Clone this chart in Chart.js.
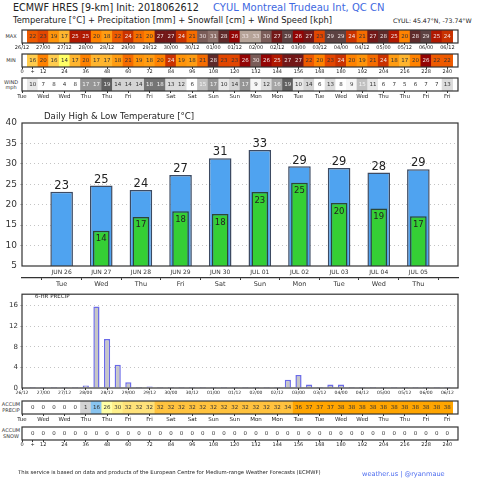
<!DOCTYPE html>
<html>
<head>
<meta charset="utf-8">
<script src="https://cdn.jsdelivr.net/npm/chart.js@4.4.0/dist/chart.umd.min.js"></script>
<style>
body { margin: 0; background: #fff; }
#wrap { position: relative; width: 480px; height: 480px; overflow: hidden; font-family: 'DejaVu Sans', sans-serif; color: #222; }
#wrap canvas { position: absolute; left: 0; }
.t { position: absolute; white-space: nowrap; line-height: 1; }
.lab { position: absolute; left: 0; width: 22px; text-align: center; font-size: 5px; line-height: 5.5px; color: #333; }
</style>
</head>
<body>
<div id="wrap">
  <div class="t" style="left:13px;top:3px;font-size:9.6px">ECMWF HRES [9-km] Init: 2018062612</div>
  <div class="t" style="left:213px;top:3px;font-size:10px;color:#4169e1">CYUL Montreal Trudeau Int, QC CN</div>
  <div class="t" style="left:13px;top:16px;font-size:8.4px">Temperature [°C] + Precipitation [mm] + Snowfall [cm] + Wind Speed [kph]</div>
  <div class="t" style="left:393px;top:17.5px;font-size:6.2px">CYUL: 45.47°N, -73.74°W</div>

  <div class="lab" style="top:34px">MAX</div>
  <div class="lab" style="top:58px">MIN</div>
  <div class="lab" style="top:79.5px">WIND<br>mph</div>
  <div class="lab" style="top:402px">ACCUM<br>PRECIP</div>
  <div class="lab" style="top:428px">ACCUM<br>SNOW</div>

  <canvas id="cMax" width="480" height="28" style="top:28px"></canvas>
  <canvas id="cMin" width="480" height="28" style="top:52px"></canvas>
  <canvas id="cWind" width="480" height="28" style="top:76px"></canvas>
  <canvas id="cTemp" width="480" height="182" style="top:108px"></canvas>
  <canvas id="cPrecip" width="480" height="110" style="top:288px"></canvas>
  <canvas id="cAcc" width="480" height="28" style="top:399px"></canvas>
  <canvas id="cSnow" width="480" height="28" style="top:425px"></canvas>

  <div class="t" style="left:44px;top:112px;font-size:8.6px">Daily High &amp; Low Temperature [°C]</div>
  <div class="t" style="left:35px;top:294px;font-size:5.5px">6-HR PRECIP</div>

  <div class="t" style="left:18px;top:470px;font-size:5.3px">This service is based on data and products of the European Centre for Medium-range Weather Forecasts (ECMWF)</div>
  <div class="t" style="left:362px;top:470.5px;font-size:6.6px;color:#4b6bef">weather.us | @ryanmaue</div>
</div>

<script>
// forecast hour of each 6-hourly cell
const hours = [6,12,18,24,30,36,42,48,54,60,66,72,78,84,90,96,102,108,114,120,
               126,132,138,144,150,156,162,168,174,180,186,192,198,204,210,216,222,228,234,240];

const maxT = [22,23,19,17,25,25,20,18,22,24,21,20,27,27,24,21,30,31,28,26,
              33,33,30,27,29,26,27,23,29,29,24,21,27,28,25,20,28,29,25,24];
const minT = [16,20,16,14,17,20,17,17,18,21,19,18,20,24,19,18,21,28,23,23,
              26,30,26,25,27,27,22,20,23,24,20,19,21,24,18,17,20,26,22,22];
const wind = [10,7,8,4,8,17,17,19,14,14,14,18,18,13,12,6,15,17,10,14,
              17,9,12,16,19,10,14,6,13,8,9,15,11,6,7,5,6,7,7,13];
const precip6h = [0,0,0,0,0,0.5,15.8,9.5,4.5,1.1,0.1,0.3,0,0,0,0,0,0,0,0,
                  0,0,0,0,1.6,2.5,0.7,0,0.7,0.7,0,0,0,0,0,0,0,0,0,0];
const accumPrecip = [0,0,0,0,0,0.6,16.4,25.9,30.4,31.5,31.6,31.9,32.1,32.1,32.1,32.1,32.1,32.1,32.1,32.1,
                     32.1,32.1,32.1,32.1,33.7,36.2,36.9,36.9,37.4,38.1,38.1,38.1,38.1,38.1,38.1,38.1,38.1,38.1,38.1,38.1];
const accumSnow = [0,0,0,0,0,0,0,0,0,0,0,0,0,0,0,0,0,0,0,0,
                   0,0,0,0,0,0,0,0,0,0,0,0,0,0,0,0,0,0,0,0];

// tick labels under the strips
const tick12 = [0,12,24,36,48,60,72,84,96,108,120,132,144,156,168,180,192,204,216,228,240];
const dateTicks = ['26/12','27/00','27/12','28/00','28/12','29/00','29/12','30/00','30/12','01/00','01/12',
                   '02/00','02/12','03/00','03/12','04/00','04/12','05/00','05/12','06/00','06/12'];
const dayTicks = ['Tue','Wed','Wed','Thu','Thu','Fri','Fri','Sat','Sat','Sun','Sun',
                  'Mon','Mon','Tue','Tue','Wed','Wed','Thu','Thu','Fri','Fri'];
const hourTickPos = [0,6,12,24,36,48,60,72,84,96,108,120,132,144,156,168,180,192,204,216,228,240];
const hourTicks = ['0','+','12','24','36','48','60','72','84','96','108','120','132','144','156','168','180','192','204','216','228','240'];

// daily high / low
const days = ['JUN 26','JUN 27','JUN 28','JUN 29','JUN 30','JUL 01','JUL 02','JUL 03','JUL 04','JUL 05'];
const weekdays = ['Tue','Wed','Thu','Fri','Sat','Sun','Mon','Tue','Wed','Thu'];
const highs = [23.2,24.7,23.6,27.3,31.4,33.4,29.4,29.0,27.9,28.7];
const lows = [null,13.6,17.0,18.4,17.7,23.1,25.4,20.4,19.1,17.2];

Chart.defaults.font.family = '"DejaVu Sans", sans-serif';
Chart.defaults.color = '#222';

// colour scales
const tempStops = [[0,'#ffff99'],[14,'#ffff66'],[16,'#ffcc4d'],[17,'#ffb52e'],[18,'#ff9c12'],[19,'#ff940a'],
  [20,'#ff8200'],[21,'#f56c00'],[22,'#ee5a00'],[23,'#e24600'],[24,'#c93200'],[25,'#b01800'],[26,'#930404'],
  [27,'#731818'],[28,'#5e2a2a'],[29,'#5c4242'],[30,'#7a5c58'],[31,'#8e726c'],[32,'#a38c84'],[33,'#b5a398']];
function pick(stops, v) {
  let c = stops[0][1];
  stops.forEach(s => { if (v >= s[0]) c = s[1]; });
  return c;
}
const tempFill = v => pick(tempStops, v);
const tempInk = v => v >= 24 ? '#f3e6e6' : '#333';
const windStops = [[0,'#ffffff'],[9,'#f6f6f6'],[10,'#e8e8e8'],[12,'#dcdcdc'],[14,'#d4d4d4'],[15,'#c0c0c0'],
  [16,'#a6a6a6'],[17,'#959595'],[18,'#757575'],[19,'#606060']];
const windFill = v => pick(windStops, v);
const windInk = v => v >= 15 ? '#f4f4f4' : '#333';
const accStops = [[0,'#ffffff'],[0.5,'#d3d3d3'],[10,'#88c4f0'],[25,'#ffffa6'],[28,'#fff08a'],[31,'#ffe27a'],
  [32,'#ffc23e'],[35,'#ffa500']];
const accFill = v => pick(accStops, v);

const frame = {
  id: 'frame',
  afterDraw(chart) {
    const {ctx, chartArea: a} = chart;
    ctx.save();
    ctx.strokeStyle = '#333';
    ctx.lineWidth = 1.2;
    ctx.strokeRect(a.left, a.top, a.right - a.left, a.bottom - a.top);
    ctx.restore();
  }
};

function cellText(vals, ink) {
  return {
    id: 'cellText',
    afterDatasetsDraw(chart) {
      const {ctx, chartArea} = chart;
      const y = (chartArea.top + chartArea.bottom) / 2 + 0.5;
      ctx.save();
      ctx.font = '5.5px "DejaVu Sans"';
      ctx.textAlign = 'center';
      ctx.textBaseline = 'middle';
      chart.getDatasetMeta(0).data.forEach((bar, i) => {
        ctx.fillStyle = ink(vals[i]);
        ctx.fillText(String(Math.round(vals[i])), bar.x, y);
      });
      ctx.restore();
    }
  };
}

function timeAxis(tickPos, tickText, size, height) {
  return {
    type: 'linear', min: 0, max: 246, offset: false,
    grid: { drawOnChartArea: false, tickLength: 2, color: '#333', offset: false },
    border: { display: false },
    ticks: { font: { size: size }, color: '#222', padding: 0, autoSkip: false, maxRotation: 0,
             callback: (v, i) => tickText[i] },
    afterBuildTicks: s => { s.ticks = tickPos.map(v => ({ value: v })); },
    afterFit: s => { s.height = height; }
  };
}

function strip(id, vals, fill, ink, tickPos, tickText, size) {
  return new Chart(document.getElementById(id), {
    type: 'bar',
    data: {
      datasets: [{
        data: hours.map(h => ({ x: h, y: 1 })),
        backgroundColor: vals.map(fill),
        borderWidth: 0,
        barPercentage: 1,
        categoryPercentage: 1
      }]
    },
    options: {
      responsive: false, animation: false, events: [],
      layout: { padding: { top: 2, left: 22, right: 22, bottom: 0 } },
      plugins: { legend: { display: false }, tooltip: { enabled: false } },
      scales: {
        x: timeAxis(tickPos, tickText, size, 13),
        y: { display: false, min: 0, max: 1 }
      }
    },
    plugins: [frame, cellText(vals, ink)]
  });
}

strip('cMax', maxT, tempFill, tempInk, tick12, dateTicks, 5);
strip('cMin', minT, tempFill, tempInk, hourTickPos, hourTicks, 5);
strip('cWind', wind, windFill, windInk, tick12, dayTicks, 5.5);
strip('cAcc', accumPrecip, accFill, () => '#333', tick12, dayTicks, 5.5);
strip('cSnow', accumSnow, () => '#ffffff', () => '#333', hourTickPos, hourTicks, 5);

// high / low temperature bars
const barValues = {
  id: 'barValues',
  afterDatasetsDraw(chart) {
    const ctx = chart.ctx;
    ctx.save();
    ctx.textAlign = 'center';
    ctx.fillStyle = '#222';
    const hi = chart.data.datasets[1].data;
    ctx.font = '11.5px "DejaVu Sans"';
    ctx.textBaseline = 'bottom';
    chart.getDatasetMeta(1).data.forEach((b, i) => {
      if (hi[i] == null) return;
      ctx.fillText(Math.round(hi[i]), b.x, b.y);
    });
    const lo = chart.data.datasets[0].data;
    ctx.font = '8.5px "DejaVu Sans"';
    ctx.textBaseline = 'top';
    chart.getDatasetMeta(0).data.forEach((b, i) => {
      if (lo[i] == null) return;
      ctx.fillText(Math.round(lo[i]), b.x, b.y + 4);
    });
    ctx.restore();
  }
};

new Chart(document.getElementById('cTemp'), {
  type: 'bar',
  data: {
    labels: ['', ...days, ''],
    datasets: [
      { label: 'Low', data: [null, ...lows, null], backgroundColor: '#35cf35', borderColor: '#2d4636',
        borderWidth: 1.5, grouped: false, order: 0, barPercentage: 0.42, categoryPercentage: 1 },
      { label: 'High', data: [null, ...highs, null], backgroundColor: '#4fa3f0', borderColor: '#3c4a62',
        borderWidth: 1.5, grouped: false, order: 1, barPercentage: 0.57, categoryPercentage: 1 }
    ]
  },
  options: {
    responsive: false, animation: false, events: [],
    layout: { padding: { top: 15, left: 0, right: 22, bottom: 0 } },
    plugins: { legend: { display: false }, tooltip: { enabled: false } },
    scales: {
      x: { type: 'category', offset: false, weight: 0,
           grid: { display: false, drawTicks: false }, border: { display: false },
           ticks: { font: { size: 6 }, color: '#333', padding: 3, autoSkip: false, maxRotation: 0 },
           afterFit: s => { s.height = 12; } },
      x2: { type: 'category', position: 'bottom', labels: ['', ...weekdays, ''], offset: false, weight: 1,
            grid: { drawOnChartArea: false, tickLength: 2, color: '#333' },
            border: { display: true, color: '#333', width: 1.2 },
            ticks: { font: { size: 6.5 }, color: '#333', padding: 0, autoSkip: false, maxRotation: 0 },
            afterFit: s => { s.height = 12; } },
      y: { min: 5, max: 40,
           ticks: { stepSize: 5, font: { size: 9 }, color: '#333', padding: 3 },
           grid: { color: c => (c.tick.value === 5 || c.tick.value === 40) ? 'transparent' : '#c4c4c4', tickLength: 2 },
           border: { display: false, dash: [1, 3] },
           afterFit: s => { s.width = 22; } }
    }
  },
  plugins: [frame, barValues]
});

// 6-hr precip
new Chart(document.getElementById('cPrecip'), {
  type: 'bar',
  data: {
    datasets: [{
      data: hours.map((h, i) => ({ x: h, y: precip6h[i] })),
      backgroundColor: '#c6c6c6',
      borderColor: '#6b6be8',
      borderWidth: 1.5,
      minBarLength: 1,
      barPercentage: 0.58,
      categoryPercentage: 1
    }]
  },
  options: {
    responsive: false, animation: false, events: [],
    layout: { padding: { top: 4, left: 0, right: 22, bottom: 0 } },
    plugins: { legend: { display: false }, tooltip: { enabled: false } },
    scales: {
      x: timeAxis(tick12, dateTicks, 4.5, 10),
      y: { min: 0, max: 18.2,
           ticks: { stepSize: 4, includeBounds: false, font: { size: 7 }, color: '#333', padding: 2 },
           grid: { color: c => c.tick.value === 0 ? 'transparent' : '#c4c4c4', tickLength: 2 },
           border: { display: false, dash: [1, 3] },
           afterFit: s => { s.width = 22; } }
    }
  },
  plugins: [frame]
});
</script>
</body>
</html>
